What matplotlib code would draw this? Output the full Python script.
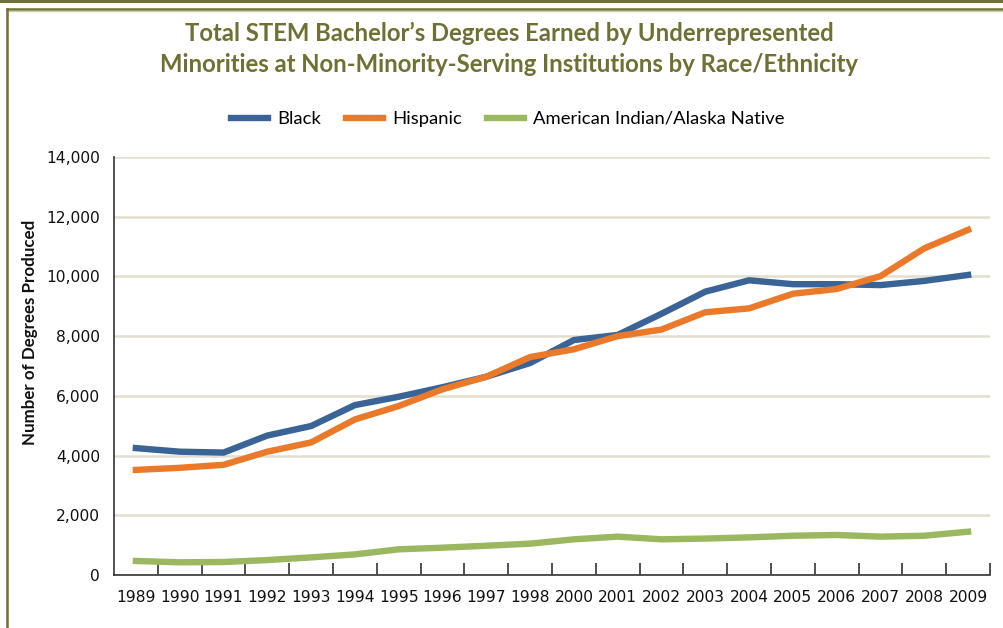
import matplotlib
matplotlib.use("Agg")
import matplotlib.pyplot as plt
from matplotlib.lines import Line2D
from matplotlib.ticker import FuncFormatter, FixedLocator

years = ["1989", "1990", "1991", "1992", "1993", "1994", "1995", "1996", "1997", "1998",
         "2000", "2001", "2002", "2003", "2004", "2005", "2006", "2007", "2008", "2009"]
black = [4250, 4130, 4100, 4670, 4990, 5690, 5970, 6290, 6640, 7100,
         7870, 8040, 8750, 9490, 9870, 9740, 9740, 9710, 9850, 10050]
hispanic = [3520, 3590, 3690, 4130, 4440, 5210, 5660, 6220, 6640, 7300,
            7560, 8000, 8220, 8800, 8930, 9420, 9580, 10010, 10940, 11560]
native = [470, 425, 435, 500, 590, 690, 860, 915, 980, 1050,
          1195, 1285, 1195, 1220, 1260, 1315, 1340, 1285, 1315, 1450]
series_names = ["Black", "Hispanic", "American Indian/Alaska Native"]
y_ticks = [0, 2000, 4000, 6000, 8000, 10000, 12000, 14000]

colors = ["#3a6496", "#ea7a2a", "#9bb760"]
olive = "#6f7033"

W, H = 1004, 628
fig = plt.figure(figsize=(W / 100, H / 100), dpi=100)
fig.patch.set_facecolor("white")

ax = fig.add_axes([114 / W, 1 - 575 / H, (990 - 114) / W, (575 - 157) / H])
x = list(range(len(years)))
for vals, c, name in zip([black, hispanic, native], colors, series_names):
    ax.plot(x, vals, color=c, lw=4.6, solid_joinstyle="miter", label=name, zorder=3)

ax.set_xlim(-0.5, len(years) - 0.5)
ax.set_ylim(0, 14000)
ax.set_yticks(y_ticks)
ax.yaxis.set_major_formatter(FuncFormatter(lambda v, p: f"{int(v):,}"))
ax.set_xticks(x)
ax.set_xticklabels(years)
ax.xaxis.set_minor_locator(FixedLocator([i + 0.5 for i in x]))
ax.tick_params(axis="x", which="major", length=0, pad=11, labelsize=11.2, colors="#111111")
ax.tick_params(axis="x", which="minor", direction="in", length=9, width=1.2, color="#333333")
ax.tick_params(axis="y", length=0, pad=10, labelsize=11.2, colors="#111111")
ax.grid(axis="y", color="#e2dfcf", lw=1.8, zorder=0)
for s in ["top", "right"]:
    ax.spines[s].set_visible(False)
for s in ["left", "bottom"]:
    ax.spines[s].set_color("#333333")
    ax.spines[s].set_linewidth(1.2)

fig.text(30 / W, 1 - 332 / H, "Number of Degrees Produced", rotation=90,
         ha="center", va="center", fontfamily="Lato", fontweight="bold",
         fontsize=12.2, color="#111111")

fig.text(0.507, 1 - 33 / H, "Total STEM Bachelor\u2019s Degrees Earned by Underrepresented",
         ha="center", va="center", fontfamily="Lato", fontweight="bold", fontsize=17.2, color=olive)
fig.text(0.507, 1 - 65 / H, "Minorities at Non-Minority-Serving Institutions by Race/Ethnicity",
         ha="center", va="center", fontfamily="Lato", fontweight="bold", fontsize=17.2, color=olive)

handles = [Line2D([], [], color=c, lw=4.6) for c in colors]
fig.legend(handles, series_names, loc="center", bbox_to_anchor=(0.506, 1 - 119 / H), ncol=3,
           frameon=False, prop={"family": "Lato", "size": 13.3}, handlelength=2.0,
           handletextpad=0.5, columnspacing=1.35)

# decorative frame
fig.add_artist(Line2D([0, 1], [1 - 1 / H, 1 - 1 / H], color=olive, lw=2.2, transform=fig.transFigure))
fig.add_artist(Line2D([7 / W, 1], [1 - 9 / H, 1 - 9 / H], color=olive, lw=1.8, transform=fig.transFigure))
fig.add_artist(Line2D([7 / W, 1], [1 - 11 / H, 1 - 11 / H], color="#c9cba6", lw=1.0, transform=fig.transFigure))
fig.add_artist(Line2D([7 / W, 7 / W], [0, 1 - 9 / H], color=olive, lw=1.8, transform=fig.transFigure))

fig.savefig("out.png", dpi=100)
